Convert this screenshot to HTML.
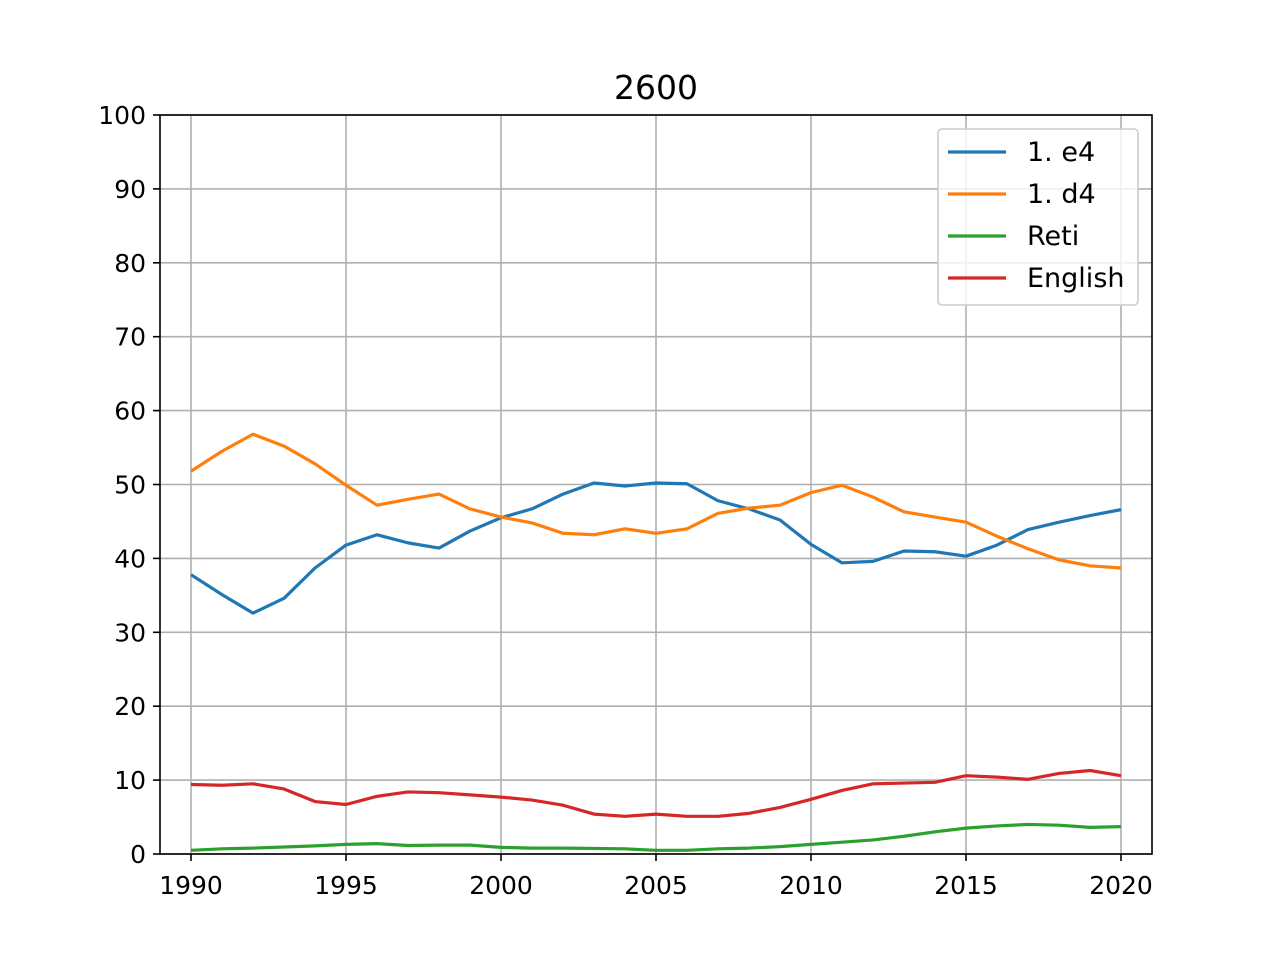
<!DOCTYPE html>
<html><head><meta charset="utf-8"><style>
body{margin:0;background:#fff;}
svg{display:block;font-family:"DejaVu Sans","Liberation Sans",sans-serif;}
</style></head><body>
<svg id="chart" width="1280" height="960">
<rect width="1280" height="960" fill="#fff"/>
<g id="grid"></g>
<g id="series"></g>
<rect x="160" y="115" width="992" height="739" fill="none" stroke="#000" stroke-width="1.6"/>
<g id="ticks"></g>
<text x="656" y="99" text-anchor="middle" font-size="33">2600</text>
<g id="legend"></g>
</svg>
<script>
const years=[1990,1991,1992,1993,1994,1995,1996,1997,1998,1999,2000,2001,2002,2003,2004,2005,2006,2007,2008,2009,2010,2011,2012,2013,2014,2015,2016,2017,2018,2019,2020];
const e4=[37.8,35.1,32.6,34.6,38.7,41.8,43.2,42.1,41.4,43.7,45.5,46.7,48.7,50.2,49.8,50.2,50.1,47.8,46.7,45.2,41.9,39.4,39.6,41.0,40.9,40.3,41.8,43.9,44.9,45.8,46.6];
const d4=[51.8,54.5,56.8,55.2,52.8,49.9,47.2,48.0,48.7,46.7,45.6,44.8,43.4,43.2,44.0,43.4,44.0,46.1,46.8,47.2,48.9,49.9,48.3,46.3,45.6,44.9,43.0,41.3,39.8,39.0,38.7];
const reti=[0.5,0.7,0.8,0.95,1.1,1.3,1.4,1.15,1.2,1.2,0.9,0.8,0.8,0.75,0.7,0.5,0.5,0.7,0.8,1.0,1.3,1.6,1.9,2.4,3.0,3.5,3.8,4.0,3.9,3.6,3.7];
const english=[9.4,9.3,9.5,8.8,7.1,6.7,7.8,8.4,8.3,8.0,7.7,7.3,6.6,5.4,5.1,5.4,5.1,5.1,5.5,6.3,7.4,8.6,9.5,9.6,9.7,10.6,10.4,10.1,10.9,11.3,10.6];
const xTicks=[1990,1995,2000,2005,2010,2015,2020];
const yTicks=[0,10,20,30,40,50,60,70,80,90,100];
const seriesNames=["1. e4","1. d4","Reti","English"];
const colors=["#1f77b4","#ff7f0e","#2ca02c","#d62728"];
const NS="http://www.w3.org/2000/svg";
const X=v=>191+(v-1990)*31;
const Y=v=>854-v*7.39;
function mk(tag,attrs,parent){const e=document.createElementNS(NS,tag);for(const k in attrs)e.setAttribute(k,attrs[k]);parent.appendChild(e);return e;}
const grid=document.getElementById('grid'),ticks=document.getElementById('ticks'),ser=document.getElementById('series'),leg=document.getElementById('legend');
xTicks.forEach(t=>{
 const g=mk('line',{x1:X(t),x2:X(t),y1:115,y2:854,stroke:'#b0b0b0','stroke-width':1.6},grid);
 
 
 mk('line',{x1:X(t),x2:X(t),y1:854,y2:861,stroke:'#000','stroke-width':1.6},ticks);
 const l=mk('text',{x:X(t),y:894,'text-anchor':'middle','font-size':25},ticks);l.textContent=t;
 
 
});
yTicks.forEach(t=>{
 const g=mk('line',{x1:160,x2:1152,y1:Y(t),y2:Y(t),stroke:'#b0b0b0','stroke-width':1.6},grid);
 
 
 mk('line',{x1:153,x2:160,y1:Y(t),y2:Y(t),stroke:'#000','stroke-width':1.6},ticks);
 const l=mk('text',{x:146,y:Y(t)+9,'text-anchor':'end','font-size':25},ticks);l.textContent=t;
 
 
});
[e4,d4,reti,english].forEach((s,i)=>{
 const p=mk('polyline',{points:s.map((v,j)=>X(years[j])+','+Y(v)).join(' '),fill:'none',stroke:colors[i],'stroke-width':3.2,'stroke-linejoin':'round'},ser);
 
 
});
const box=mk('rect',{x:938,y:129,width:200,height:176,rx:4,fill:'#fff','fill-opacity':0.8,stroke:'#ccc','stroke-width':1.6},leg);


seriesNames.forEach((n,i)=>{
 const y=152+i*42;
 mk('line',{x1:948,x2:1006,y1:y,y2:y,stroke:colors[i],'stroke-width':3.2},leg);
 const t=mk('text',{x:1027,y:y+9,'font-size':27},leg);t.textContent=n;
 
 
});
</script>
</body></html>
